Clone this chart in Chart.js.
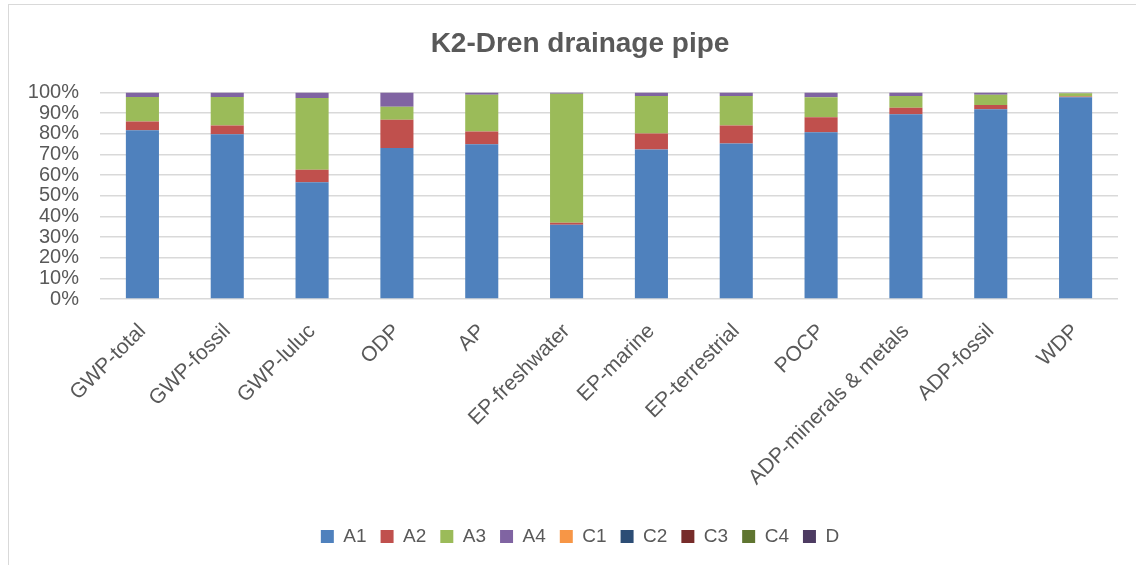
<!DOCTYPE html>
<html>
<head>
<meta charset="utf-8">
<script src="https://cdn.jsdelivr.net/npm/chart.js@4"></script>
<style>
  html, body { margin: 0; padding: 0; background: #ffffff; }
  #marco { position: absolute; left: 8px; top: 4px; width: 1128px; height: 561px;
           border-left: 1.5px solid #d9d9d9; border-top: 1.5px solid #d9d9d9; }
  #lienzo { position: absolute; left: 0; top: 0; width: 1136px; height: 565px; }
</style>
</head>
<body>
<div id="marco"></div>
<div id="lienzo"><canvas id="barChart" width="1136" height="565"></canvas></div>
<script>
// Categorías (indicadores) y porcentajes
var categorias = ['GWP-total', 'GWP-fossil', 'GWP-luluc', 'ODP', 'AP', 'EP-freshwater',
  'EP-marine', 'EP-terrestrial', 'POCP', 'ADP-minerals & metals', 'ADP-fossil', 'WDP'];

var valoresA1 = [81.8, 79.8, 56.6, 73.1, 75.0, 36.0, 72.4, 75.3, 80.8, 89.5, 91.9, 97.7];
var valoresA2 = [4.2, 4.2, 6.0, 13.8, 6.1, 0.9, 7.8, 8.7, 7.3, 3.2, 2.1, 0.4];
var valoresA3 = [11.9, 13.9, 34.8, 6.2, 17.8, 62.6, 18.2, 14.4, 9.6, 5.7, 4.9, 1.6];
var valoresA4 = [2.1, 2.1, 2.6, 6.9, 1.1, 0.5, 1.6, 1.6, 2.3, 1.6, 1.1, 0.3];
var valoresC1 = [0, 0, 0, 0, 0, 0, 0, 0, 0, 0, 0, 0];
var valoresC2 = [0, 0, 0, 0, 0, 0, 0, 0, 0, 0, 0, 0];
var valoresC3 = [0, 0, 0, 0, 0, 0, 0, 0, 0, 0, 0, 0];
var valoresC4 = [0, 0, 0, 0, 0, 0, 0, 0, 0, 0, 0, 0];
var valoresD = [0, 0, 0, 0, 0, 0, 0, 0, 0, 0, 0, 0];

var ticksY = [0, 10, 20, 30, 40, 50, 60, 70, 80, 90, 100];

var gris = '#595959';
var fuente = "'Liberation Sans', Arial, sans-serif";

function serie(nombre, datos, color) {
  return { label: nombre, data: datos, backgroundColor: color, borderWidth: 0,
           barPercentage: 0.39, categoryPercentage: 1.0 };
}

var ctx = document.getElementById('barChart').getContext('2d');

var barChart = new Chart(ctx, {
  type: 'bar',
  data: {
    labels: categorias,
    datasets: [
      serie('A1', valoresA1, '#4f81bd'),
      serie('A2', valoresA2, '#c0504d'),
      serie('A3', valoresA3, '#9bbb59'),
      serie('A4', valoresA4, '#8064a2'),
      serie('C1', valoresC1, '#f79646'),
      serie('C2', valoresC2, '#2c4d75'),
      serie('C3', valoresC3, '#772c2a'),
      serie('C4', valoresC4, '#5f7530'),
      serie('D', valoresD, '#4d3b62')
    ]
  },
  options: {
    responsive: false,
    animation: false,
    layout: { padding: { left: 42, right: 18, top: 0, bottom: 9 } },
    plugins: {
      title: {
        display: true,
        text: 'K2-Dren drainage pipe',
        color: gris,
        font: { family: fuente, size: 28, weight: 'bold' },
        padding: { top: 27, bottom: 32 }
      },
      legend: {
        position: 'bottom',
        labels: {
          color: gris,
          font: { family: fuente, size: 19 },
          boxWidth: 13,
          boxHeight: 13,
          padding: 14
        }
      },
      tooltip: { enabled: false }
    },
    scales: {
      x: {
        stacked: true,
        grid: { display: false },
        border: { display: false },
        ticks: {
          color: gris,
          font: { family: fuente, size: 21 },
          minRotation: 45,
          maxRotation: 45,
          padding: 12,
          autoSkip: false
        },
        afterFit: function (scale) { scale.height = 214; }
      },
      y: {
        stacked: true,
        min: 0,
        max: 100,
        afterBuildTicks: function (scale) {
          scale.ticks = ticksY.map(function (v) { return { value: v }; });
        },
        grid: { color: '#d9d9d9', lineWidth: 1.5, drawTicks: false },
        border: { display: false },
        ticks: {
          color: gris,
          font: { family: fuente, size: 20 },
          padding: 21,
          autoSkip: false,
          callback: function (v) { return v + '%'; }
        },
        afterFit: function (scale) {
          scale.width = 58;
          // las etiquetas sobresalen a la izquierda del eje: sin recorte
          scale._computeLabelArea = function () { return undefined; };
        }
      }
    }
  }
});
</script>
</body>
</html>
